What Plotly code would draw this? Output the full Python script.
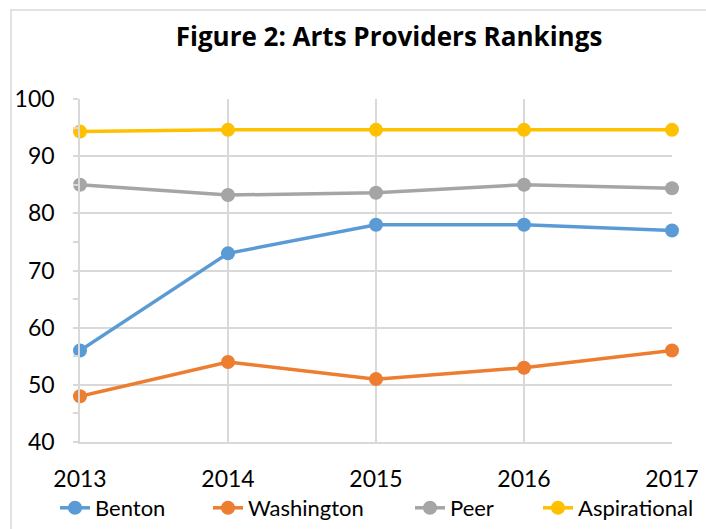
import plotly.graph_objects as go

years = [2013, 2014, 2015, 2016, 2017]
benton = [56, 73, 78, 78, 77]
washington = [48, 54, 51, 53, 56]
peer = [85, 83.2, 83.6, 85, 84.4]
aspirational = [94.3, 94.6, 94.6, 94.6, 94.6]

series_names = ["Benton", "Washington", "Peer", "Aspirational"]
series_values = [benton, washington, peer, aspirational]
series_colors = ["#5B9BD5", "#ED7D31", "#A5A5A5", "#FFC000"]

W, H = 706, 529
plot_l, plot_r, plot_t, plot_b = 80, 672, 99, 442
ml, mr, mt, mb = plot_l, W - plot_r, plot_t, H - plot_b
pw, ph = W - ml - mr, H - mt - mb

# legend text starting x (px) for each entry
legend_text_x = [97, 250, 452, 580]
legend_y = 508

font = "Lato, 'Open Sans', sans-serif"
grid = "#d9d9d9"

fig = go.Figure()
legends = {}
for i, (name, vals, col) in enumerate(zip(series_names, series_values, series_colors)):
    lname = "legend" if i == 0 else f"legend{i + 1}"
    fig.add_trace(go.Scatter(
        x=years, y=vals, name=name, mode="lines+markers",
        line=dict(color=col, width=3.5),
        marker=dict(color=col, size=14),
        cliponaxis=False, legend=lname, showlegend=True,
    ))
    legends[lname] = dict(
        orientation="h", xref="container", yref="container",
        x=(legend_text_x[i] - 42) / W, xanchor="left",
        y=1 - legend_y / H, yanchor="middle",
        font=dict(size=22), bgcolor="rgba(0,0,0,0)",
    )

fig.update_layout(
    width=W, height=H, showlegend=True,
    margin=dict(l=ml, r=mr, t=mt, b=mb, autoexpand=False),
    paper_bgcolor="white", plot_bgcolor="white",
    font=dict(family=font, color="black"),
    title=dict(text="<b>Figure 2: Arts Providers Rankings</b>",
               x=389 / W, xanchor="center", xref="container",
               y=1 - 37 / H, yanchor="middle", yref="container",
               font=dict(size=26, family="'Open Sans', sans-serif", color="black")),
    xaxis=dict(range=[2013, 2017], tickmode="array", tickvals=years,
               ticktext=[str(y) for y in years],
               showgrid=True, gridcolor=grid, gridwidth=1.5,
               showline=True, linecolor=grid, linewidth=1.5,
               zeroline=False, ticks="", ticklabelstandoff=16,
               ticklabeloverflow="allow",
               tickfont=dict(size=23), automargin=False),
    yaxis=dict(range=[40, 100], dtick=10, tick0=40,
               showgrid=True, gridcolor=grid, gridwidth=1.5,
               showline=True, linecolor=grid, linewidth=1.5,
               zeroline=False, ticks="outside", ticklen=5, tickcolor=grid,
               tickwidth=1.5,
               minor=dict(dtick=5, ticks="outside", ticklen=5, tickcolor=grid,
                          tickwidth=1.5, showgrid=False),
               ticklabelstandoff=14,
               tickfont=dict(size=23), automargin=False),
    shapes=[dict(type="rect", xref="paper", yref="paper",
                 x0=(11 - plot_l) / pw, x1=1.5,
                 y0=-0.5, y1=(plot_b - 10) / ph,
                 line=dict(color=grid, width=1.5), fillcolor="rgba(0,0,0,0)",
                 layer="below")],
    **legends,
)

fig.write_html(
    "out.html",
    config={"displayModeBar": False},
    post_script="document.body.style.margin='0';document.body.style.overflow='hidden';",
)
